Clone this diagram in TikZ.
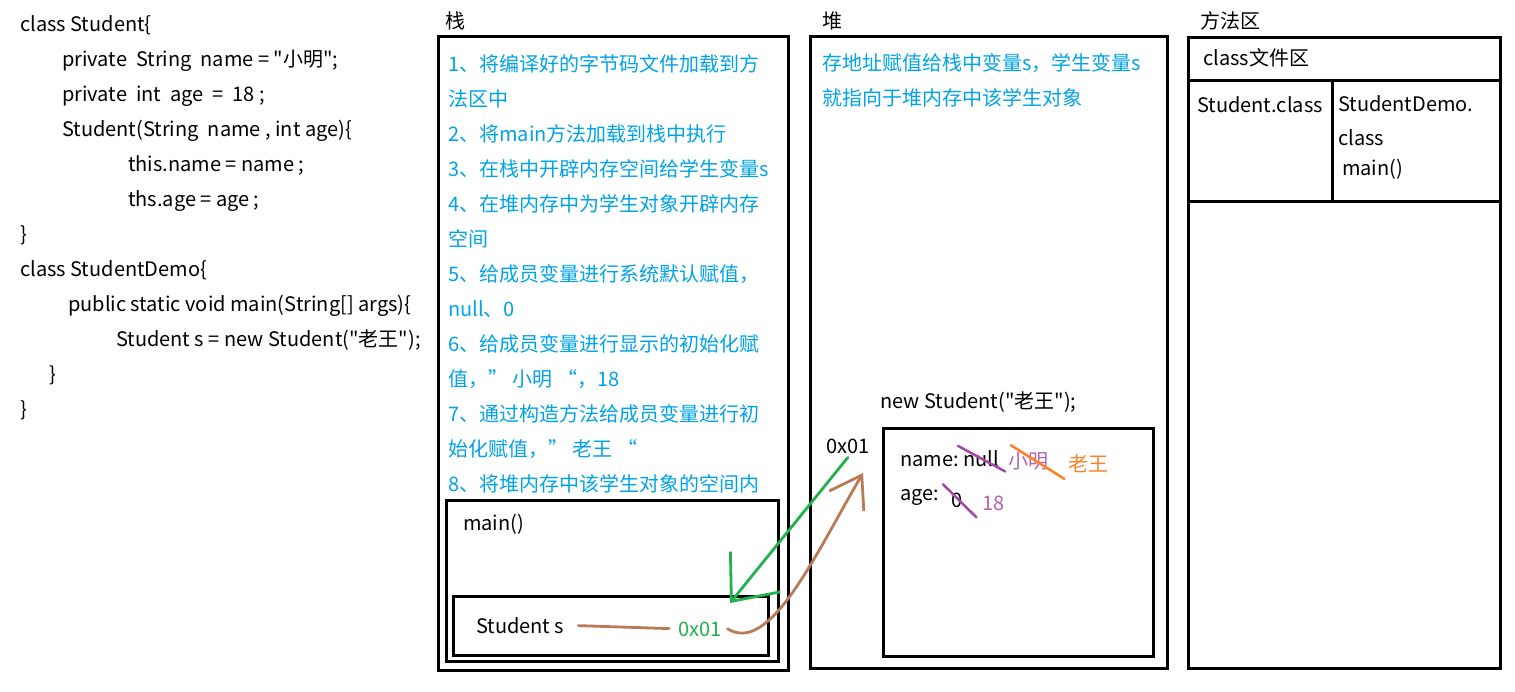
\documentclass[tikz,border=0pt]{standalone}
\usepackage{fontspec}
\setmainfont{Noto Sans CJK SC}[Ligatures=TeXOff]
\usetikzlibrary{arrows.meta,positioning}
\definecolor{noteblue}{RGB}{0,162,232}
\definecolor{ptrgreen}{RGB}{34,177,76}
\definecolor{ptrbrown}{RGB}{185,122,87}
\definecolor{valpurple}{RGB}{163,73,164}
\definecolor{valorange}{RGB}{255,127,39}

\tikzset{
    box/.style={draw, line width=3pt, inner sep=0pt, anchor=north west},
    txt/.style={anchor=base west, inner sep=0pt, font=\fontsize{20}{24}\selectfont},
    note/.style={txt, text=noteblue},
    strike/.style={line width=2.5pt, line cap=round},
    ptr/.style={line width=2.8pt, line cap=round}
}

\begin{document}
\begin{tikzpicture}[x=1pt, y=-1pt]
    \useasboundingbox (0,0) rectangle (1515,691);

    \node[txt] (c1) at (20,31) {class Student\{};
    \node[txt] (c2) at (62,66) {private\ \ String\ \ name = "小明";};
    \node[txt] (c3) at (62,101) {private\ \ int\ \ age\ \ =\ \ 18 ;};
    \node[txt] (c4) at (62,136) {Student(String\ \ name , int age)\{};
    \node[txt] (c5) at (128,171) {this.name = name ;};
    \node[txt] (c6) at (128,206) {ths.age = age ;};
    \node[txt] (c7) at (20,241) {\}};
    \node[txt] (c8) at (20,276) {class StudentDemo\{};
    \node[txt] (c9) at (68,311) {public static void main(String[] args)\{};
    \node[txt] (c10) at (116,346) {Student s = new Student("老王");};
    \node[txt] (c11) at (49,381) {\}};
    \node[txt] (c12) at (20,416) {\}};

    \node[txt] (stacklbl) at (445,28) {栈};
    \node[txt] (heaplbl) at (822,28) {堆};
    \node[txt] (methlbl) at (1200,28) {方法区};

    \node[box, minimum width=350pt, minimum height=634pt] (stack) at (437,35) {};
    \node[box, minimum width=357pt, minimum height=632pt] (heap) at (809,35) {};
    \node[box, minimum width=312pt, minimum height=631pt] (meth) at (1187,36) {};

    \node[note] (s1) at (448,71) {1、将编译好的字节码文件加载到方};
    \node[note] (s2) at (448,106) {法区中};
    \node[note] (s3) at (448,141) {2、将main方法加载到栈中执行};
    \node[note] (s4) at (448,176) {3、在栈中开辟内存空间给学生变量s};
    \node[note] (s5) at (448,211) {4、在堆内存中为学生对象开辟内存};
    \node[note] (s6) at (448,246) {空间};
    \node[note] (s7) at (448,281) {5、给成员变量进行系统默认赋值，};
    \node[note] (s8) at (448,316) {null、0};
    \node[note] (s9) at (448,351) {6、给成员变量进行显示的初始化赋};
    \node[note] (s10) at (448,386) {值，” 小明 “，18};
    \node[note] (s11) at (448,421) {7、通过构造方法给成员变量进行初};
    \node[note] (s12) at (448,456) {始化赋值，” 老王 “};
    \node[note] (s13) at (448,491) {8、将堆内存中该学生对象的空间内};

    \node[box, fill=white, minimum width=332pt, minimum height=161pt] (mainfr) at (445,499) {};
    \node[txt] (mainlbl) at (463,530) {main()};
    \node[box, minimum width=315pt, minimum height=59pt] (svarbox) at (452,595) {};
    \node[txt] (svar) at (476,633) {Student s};
    \node[txt, text=ptrgreen] (sval) at (678,636) {0x01};

    \node[note] (h1) at (822,70) {存地址赋值给栈中变量s，学生变量s};
    \node[note] (h2) at (822,105) {就指向于堆内存中该学生对象};
    \node[txt] (newlbl) at (880,408) {new Student("老王");};
    \node[txt] (addr) at (826,453) {0x01};
    \node[box, minimum width=270pt, minimum height=228pt] (obj) at (882,427) {};
    \node[txt] (fname) at (900,466) {name:};
    \node[txt] (vnull) at (963,466) {null};
    \node[txt, text=valpurple!85] (vxm) at (1008,468) {小明};
    \node[txt, text=valorange] (vlw) at (1068,471) {老王};
    \node[txt] (fage) at (900,500) {age:};
    \node[txt] (vzero) at (951,507) {0};
    \node[txt, text=valpurple!85] (v18) at (982,510) {18};

    \draw[line width=3pt] (1187,80) -- (1499,80);
    \draw[line width=3pt] (1187,201) -- (1501,201);
    \draw[line width=3pt] (1332,80) -- (1332,201);
    \node[txt] (cfa) at (1203,65) {class文件区};
    \node[txt] (stcls) at (1197,112) {Student.class};
    \node[txt] (sdcls) at (1338,111) {StudentDemo.};
    \node[txt] (sdcls2) at (1338,145) {class};
    \node[txt] (sdmain) at (1342,175) {main()};

    \draw[strike, valpurple] ([shift={(-5pt,4pt)}]vnull.north west) -- ([shift={(6pt,-5pt)}]vnull.south east);
    \draw[strike, valorange] ([shift={(3pt,6pt)}]vxm.north west) -- ([shift={(16pt,-9pt)}]vxm.south east);
    \draw[strike, valpurple] ([shift={(-8pt,8pt)}]vzero.north west) -- ([shift={(14pt,-10pt)}]vzero.south east);

    \coordinate (vtip) at (730,603);
    \coordinate (objhook) at (863,473);
    \draw[ptr, ptrgreen, -{Straight Barb[length=38pt, width=64pt]}] ([shift={(0pt,-4pt)}]addr.south) -- (vtip);
    \draw[ptr, ptrbrown, shorten <=14pt, shorten >=9pt] (svar.east) -- (sval.west);
    \draw[ptr, ptrbrown, -{Straight Barb[length=30pt, width=40pt]}] ([xshift=6pt]sval.east) .. controls (770,655) and (815,555) .. (objhook);
\end{tikzpicture}
\end{document}
